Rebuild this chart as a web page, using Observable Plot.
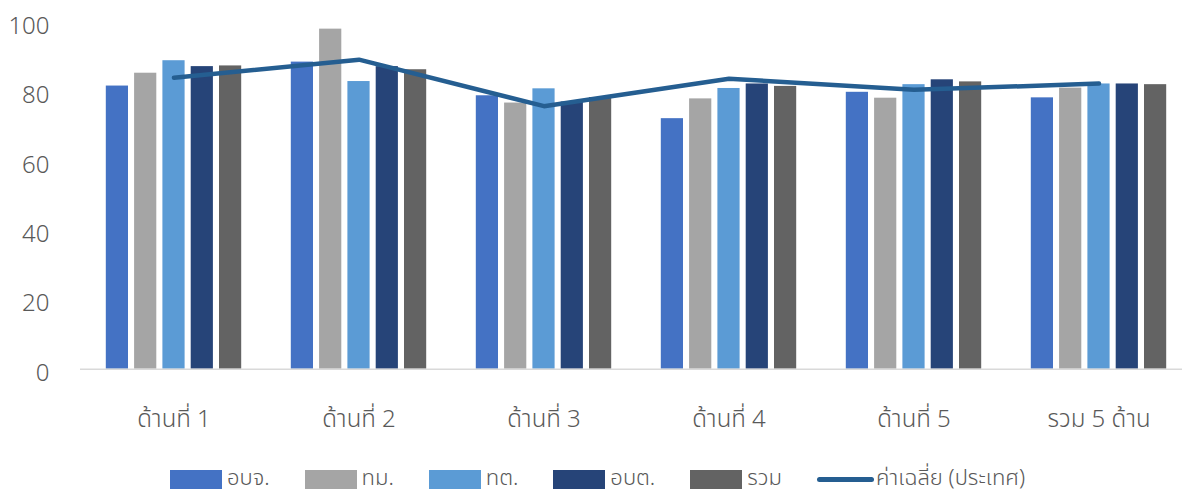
<!DOCTYPE html>
<html>
<head>
<meta charset="utf-8">
<script src="https://cdn.jsdelivr.net/npm/d3@7"></script>
<script src="https://cdn.jsdelivr.net/npm/@observablehq/plot@0.6"></script>
<style>
  html, body { margin: 0; padding: 0; background: #fff; overflow: hidden; }
  body { width: 1182px; height: 493px; font-family: "Noto Sans Thai", "Noto Sans", "DejaVu Sans", sans-serif; font-weight: 300; color: #595959; }
  #legend { display: flex; align-items: center; gap: 35px; padding-left: 170px; padding-top: 13px; height: 28px; font-size: 22px; }
  .item { display: flex; align-items: center; height: 19px; }
  .item span.t { line-height: 22px; }
  .sw { width: 52px; height: 19px; margin-right: 5px; }
  .ln { width: 57px; height: 5px; border-radius: 3px; margin-right: 2px; }
</style>
</head>
<body>
<div id="chart"></div>
<div id="legend"></div>
<script>
// ---- data ----
const categories = ["ด้านที่ 1", "ด้านที่ 2", "ด้านที่ 3", "ด้านที่ 4", "ด้านที่ 5", "รวม 5 ด้าน"];
const seriesNames = ["อบจ.", "ทม.", "ทต.", "อบต.", "รวม"];
const valuesOBJ = [81.6, 88.5, 78.8, 72.2, 79.8, 78.2];   // อบจ.
const valuesTM  = [85.3, 98.0, 76.7, 77.9, 78.1, 81.0];   // ทม.
const valuesTT  = [88.9, 82.9, 80.8, 80.9, 82.0, 82.2];   // ทต.
const valuesOBT = [87.2, 87.2, 77.0, 82.2, 83.4, 82.2];   // อบต.
const valuesAll = [87.4, 86.3, 78.3, 81.5, 82.8, 82.0];   // รวม
const averageName = "ค่าเฉลี่ย (ประเทศ)";
const averageValues = [84.0, 89.2, 75.8, 83.7, 80.5, 82.3];
const yTicks = [0, 20, 40, 60, 80, 100];

// ---- styles ----
const barColors = ["#4472C4", "#A5A5A5", "#5B9BD5", "#264478", "#636363"];
const lineColor = "#255E91";
const textColor = "#595959";
const fontFamily = "'Noto Sans Thai', 'Noto Sans', 'DejaVu Sans', sans-serif";

const seriesValues = [valuesOBJ, valuesTM, valuesTT, valuesOBT, valuesAll];
const table = seriesNames.flatMap((s, i) =>
  categories.map((c, j) => ({category: c, series: s, value: seriesValues[i][j]})));
const avgTable = categories.map((c, j) => ({category: c, value: averageValues[j]}));

// geometry
const xRange = [80.2, 1191.4];
const bandW = (xRange[1] - xRange[0]) / categories.length;
const barStep = 28.3, barW = 22.4;
const firstInset = (bandW - seriesNames.length * barStep + (barStep - barW)) / 2;

const barMarks = seriesNames.map((s, i) => {
  const left = firstInset + i * barStep;
  return Plot.barY(table.filter(d => d.series === s), {
    x: "category", y: "value", fill: "series",
    insetLeft: left, insetRight: bandW - left - barW
  });
});

const chart = Plot.plot({
  width: 1182,
  height: 452,
  marginLeft: 80,
  marginRight: 0,
  marginTop: 20,
  marginBottom: 80,
  style: {fontSize: "24px", fontWeight: 300, fontFamily, color: textColor, background: "#fff", overflow: "hidden"},
  x: {type: "band", domain: categories, range: xRange, padding: 0, label: null},
  y: {domain: [0, 100], range: [368.7, 21.7], label: null},
  color: {domain: seriesNames, range: barColors},
  marks: [
    ...barMarks,
    Plot.ruleY([0], {stroke: "#D9D9D9", strokeWidth: 1.5}),
    Plot.line(avgTable, {x: "category", y: "value", stroke: lineColor, strokeWidth: 4.5,
      strokeLinecap: "round", strokeLinejoin: "round"}),
    Plot.axisY({ticks: yTicks, tickSize: 0, tickPadding: 31, dy: 4, fill: textColor, label: null}),
    Plot.axisX({tickSize: 0, tickPadding: 37, fill: textColor, label: null})
  ]
});
document.getElementById("chart").appendChild(chart);

// ---- legend ----
const legend = document.getElementById("legend");
function addItem(swClass, color, label) {
  const item = document.createElement("div");
  item.className = "item";
  const sw = document.createElement("span");
  sw.className = swClass;
  sw.style.background = color;
  const t = document.createElement("span");
  t.className = "t";
  t.textContent = label;
  item.append(sw, t);
  legend.append(item);
}
seriesNames.forEach((s, i) => addItem("sw", barColors[i], s));
addItem("ln", lineColor, averageName);
</script>
</body>
</html>
